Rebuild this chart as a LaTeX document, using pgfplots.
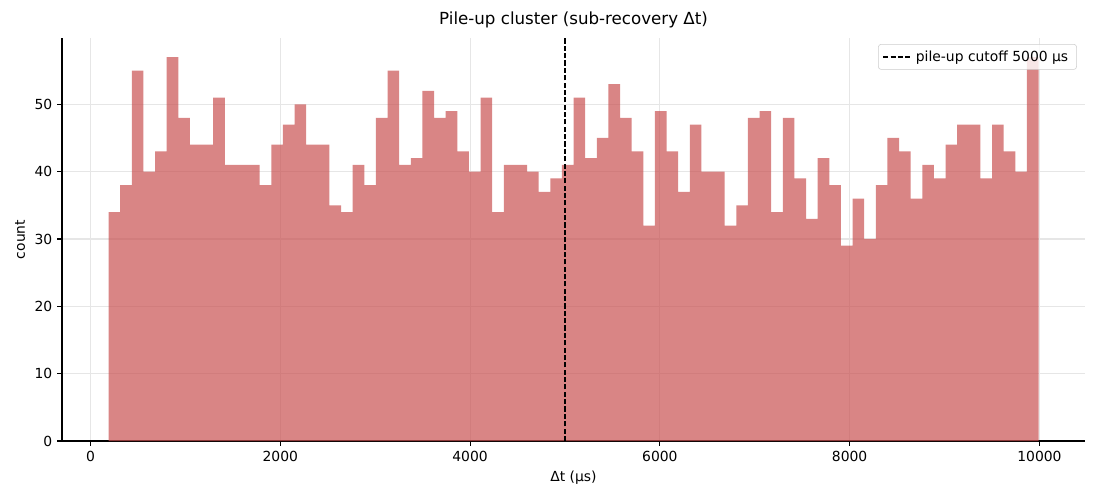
\documentclass[border=0pt]{standalone}
\usepackage{pgfplots}
\pgfplotsset{compat=1.18}
\usepackage{pgfplotstable}
\usepackage{fontspec}
\setmainfont{DejaVu Sans}
\definecolor{barc}{RGB}{201,81,81}
\definecolor{gridc}{RGB}{230,230,230}
\pgfplotstableread{
x y
190 34
312.5 38
435 55
557.5 40
680 43
802.5 57
925 48
1047.5 44
1170 44
1292.5 51
1415 41
1537.5 41
1660 41
1782.5 38
1905 44
2027.5 47
2150 50
2272.5 44
2395 44
2517.5 35
2640 34
2762.5 41
2885 38
3007.5 48
3130 55
3252.5 41
3375 42
3497.5 52
3620 48
3742.5 49
3865 43
3987.5 40
4110 51
4232.5 34
4355 41
4477.5 41
4600 40
4722.5 37
4845 39
4967.5 41
5090 51
5212.5 42
5335 45
5457.5 53
5580 48
5702.5 43
5825 32
5947.5 49
6070 43
6192.5 37
6315 47
6437.5 40
6560 40
6682.5 32
6805 35
6927.5 48
7050 49
7172.5 34
7295 48
7417.5 39
7540 33
7662.5 42
7785 38
7907.5 29
8030 36
8152.5 30
8275 38
8397.5 45
8520 43
8642.5 36
8765 41
8887.5 39
9010 44
9132.5 47
9255 47
9377.5 39
9500 47
9622.5 43
9745 40
9867.5 57
9990 57
}\histdata
\begin{document}
\begin{tikzpicture}
\path[use as bounding box] (0,0) rectangle (792pt,360pt);
\begin{axis}[
  at={(44.64pt,42.48pt)}, anchor=south west,
  scale only axis, width=736.56pt, height=290.16pt,
  xmin=-300, xmax=10480, ymin=0, ymax=59.85,
  axis x line*=bottom, axis y line*=left,
  axis line style={-, line width=0.8pt},
  tick align=outside, tick style={black, line width=0.8pt},
  major tick length=3.5pt,
  xtick={0,2000,4000,6000,8000,10000},
  ytick={0,10,20,30,40,50},
  scaled x ticks=false, scaled y ticks=false,
  /pgf/number format/assume math mode=true,
  /pgf/number format/1000 sep={},
  grid=major, grid style={gridc, line width=0.8pt},
  tick label style={font=\fontsize{10}{12}\selectfont},
  label style={font=\fontsize{10}{12}\selectfont},
  title style={font=\fontsize{12}{14}\selectfont, yshift=-2pt},
  title={Pile-up cluster (sub-recovery Δt)},
  xlabel={Δt (μs)},
  ylabel={count},
  legend style={at={(0.992,0.985)}, anchor=north east, draw=black!20, fill=white, fill opacity=0.8, text opacity=1, rounded corners=2pt, font=\fontsize{10}{12}\selectfont, inner xsep=3pt, inner ysep=3.5pt, nodes={inner xsep=3pt, inner ysep=1pt}},
  legend image code/.code={\draw[#1] (0pt,0pt) -- (20pt,0pt);},
  legend cell align=left,
  clip=true,
]
\addplot[ybar interval, fill=barc, fill opacity=0.7, draw=none, forget plot] table[x=x,y=y] {\histdata};
\addplot[black, line width=1pt, dash pattern=on 3.7pt off 1.6pt] coordinates {(5000,0) (5000,59.85)};
\addlegendentry{pile-up cutoff 5000 μs}
\end{axis}
\end{tikzpicture}
\end{document}
